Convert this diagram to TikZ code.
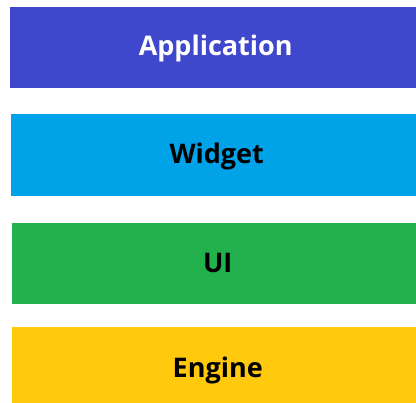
\documentclass[tikz,border=0pt]{standalone}
\usepackage{fontspec}
\setmainfont{Open Sans}
\usepackage{tikz}
\usetikzlibrary{positioning}

\definecolor{appblue}{RGB}{63,72,204}
\definecolor{widgetblue}{RGB}{0,162,232}
\definecolor{uigreen}{RGB}{34,177,76}
\definecolor{enginegold}{RGB}{255,201,14}

\tikzset{
	layer/.style={rectangle, inner sep=0pt, minimum width=412pt, anchor=north west,
		text height=19.3pt, text depth=2pt,
		font=\fontsize{27}{31}\selectfont\bfseries, text=black},
}

\begin{document}
\begin{tikzpicture}[x=1pt, y=-1pt]
	% picture frame
	\useasboundingbox (0, 0) rectangle (416, 403);
	\clip (0, 0) rectangle (416, 403);
	% layers from top to bottom
	\node[layer, fill=appblue, text=white, minimum height=81pt] (app) at (9.5, 6.5) {Application};
	\node[layer, fill=widgetblue, minimum height=82.5pt] (widget) at (10.5, 113.5) {Widget};
	\node[layer, fill=uigreen, minimum height=81.5pt] (ui) at (11.5, 222.8) {UI};
	\node[layer, fill=enginegold, minimum height=82pt] (engine) at (11.5, 327.3) {Engine};
\end{tikzpicture}
\end{document}
